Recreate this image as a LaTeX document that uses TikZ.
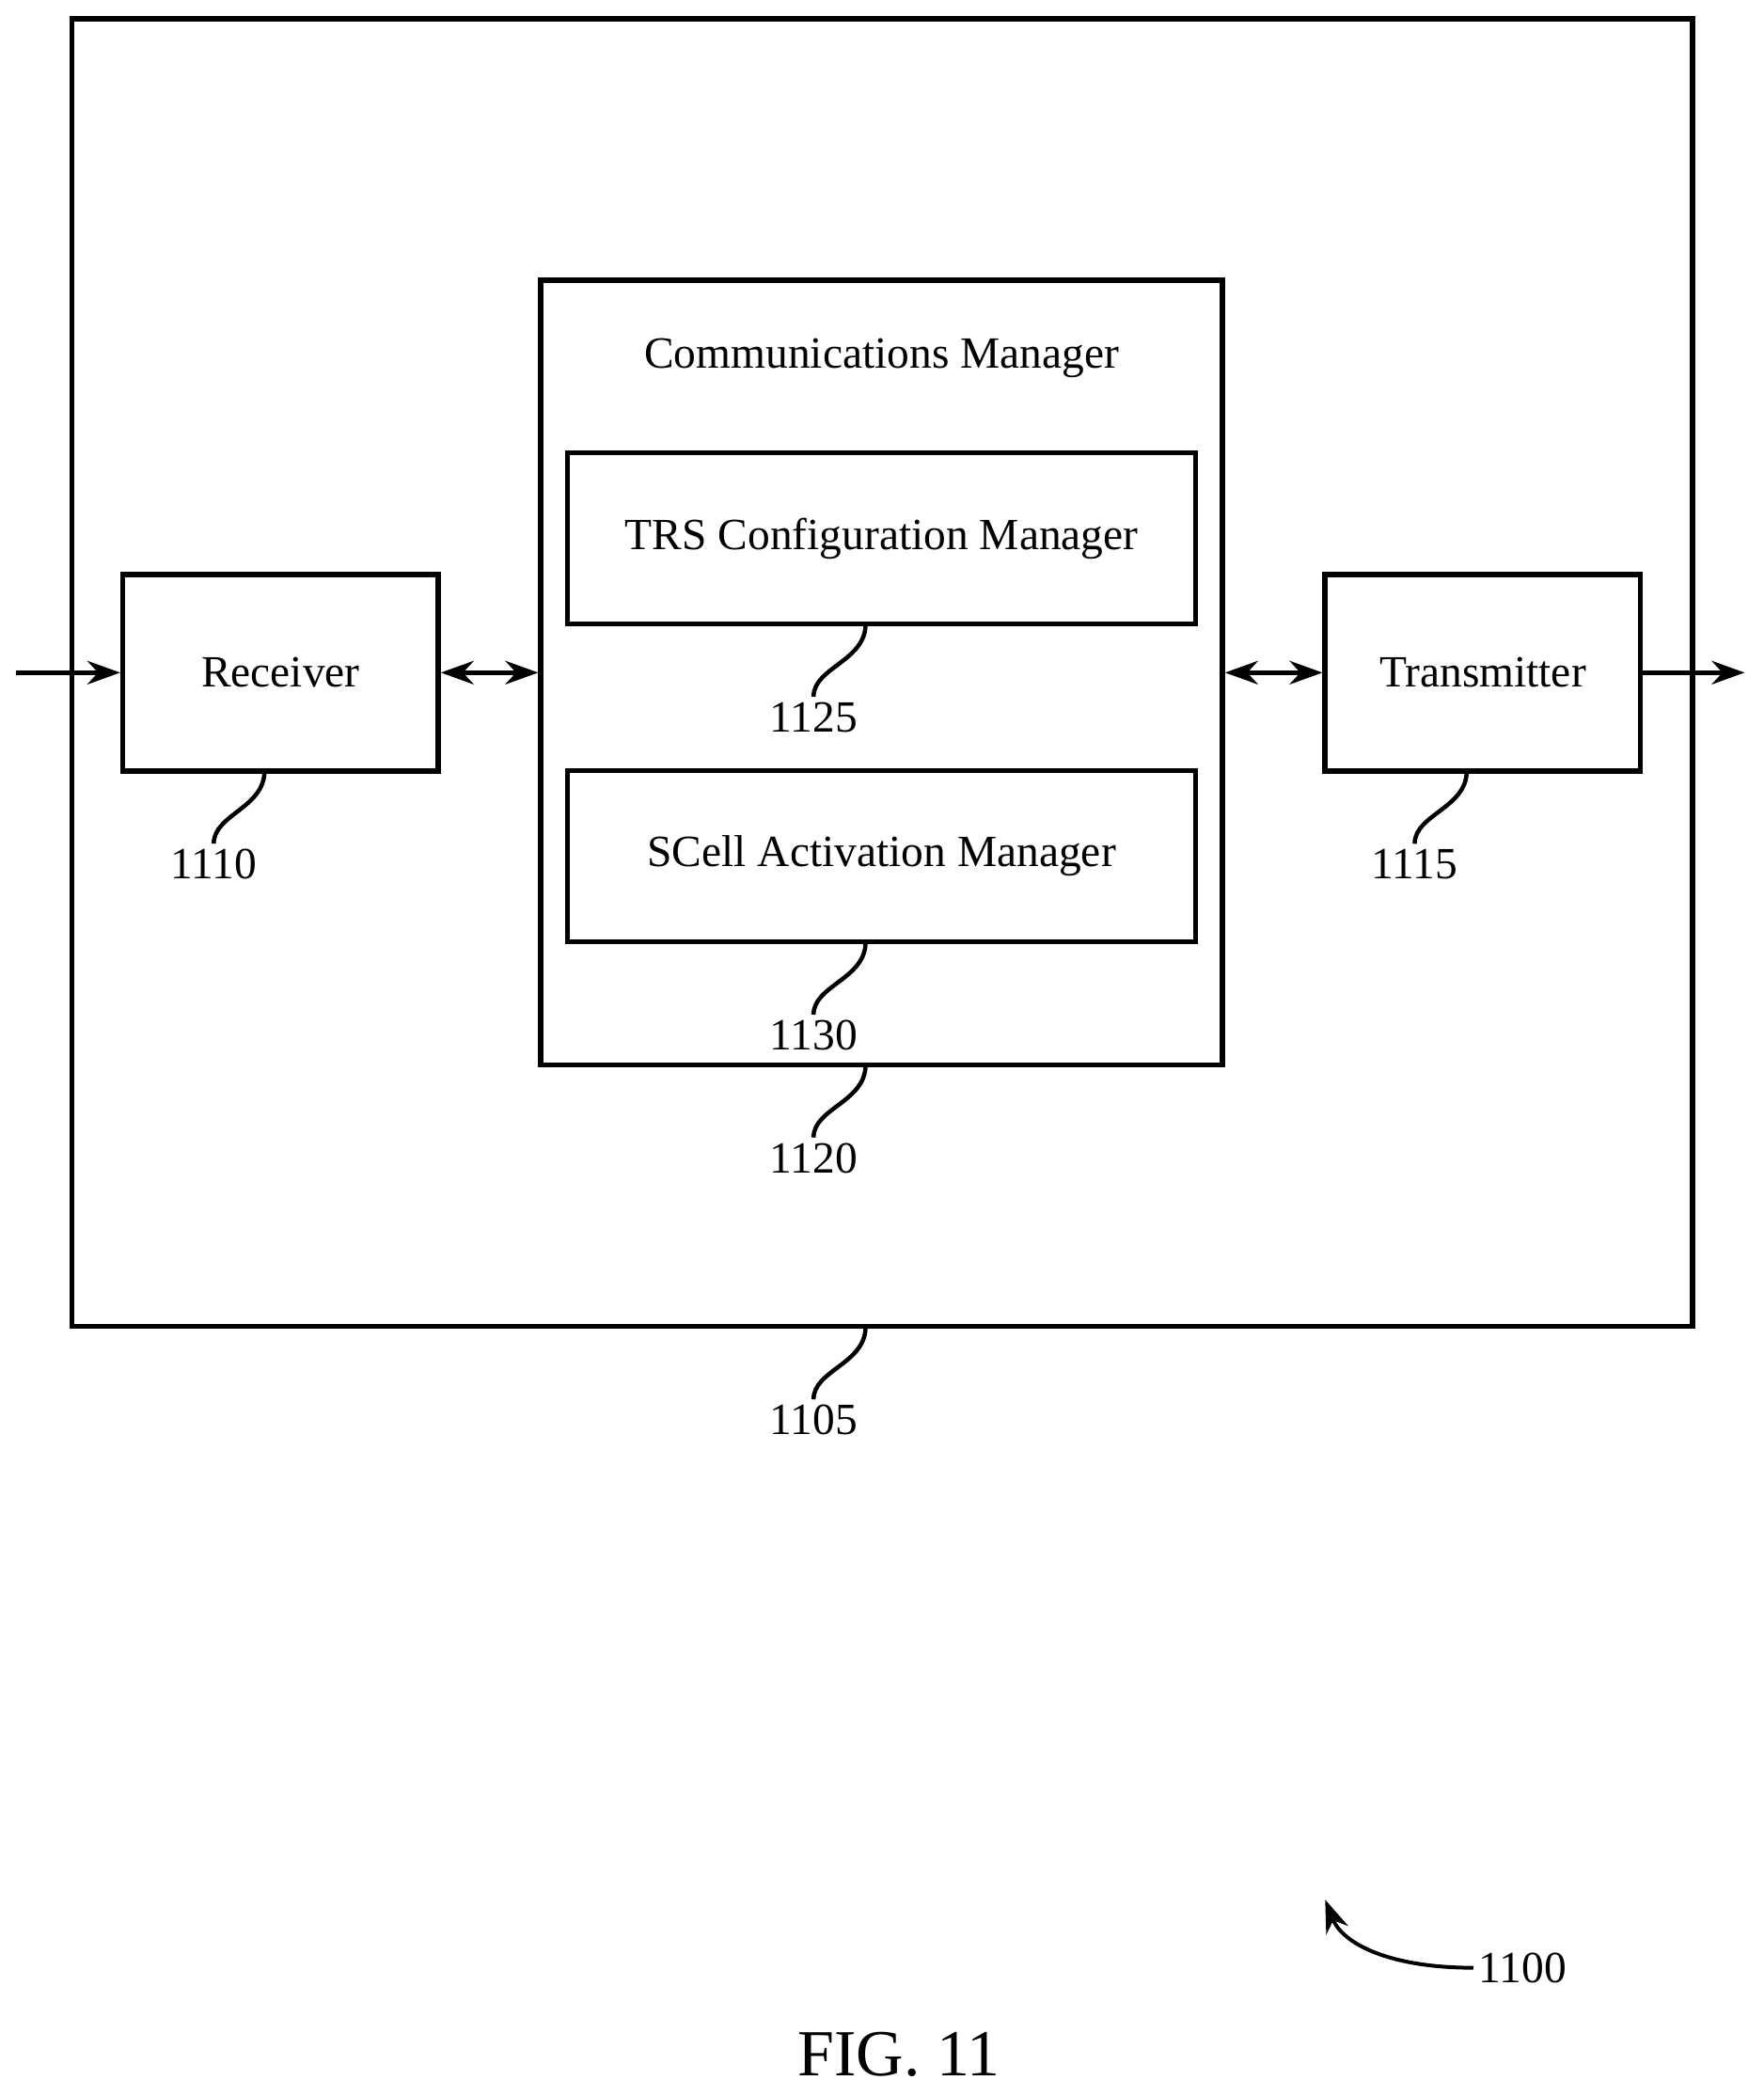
\documentclass[tikz,border=0pt]{standalone}
\usepackage{fontspec}
\setmainfont{Liberation Serif}
\usetikzlibrary{positioning,arrows.meta}

\begin{document}
\begin{tikzpicture}[
    x=0.01cm, y=-0.01cm,
    box/.style={draw, line width=1.1pt, font=\fontsize{9.5}{11}\selectfont},
    lbl/.style={font=\fontsize{9.5}{11}\selectfont, inner sep=1pt},
    conn/.style={line width=0.9pt, -{Stealth[length=7pt,width=5pt]}},
    biconn/.style={line width=0.9pt, {Stealth[length=7pt,width=5pt]}-{Stealth[length=7pt,width=5pt]}},
    squig/.style={line width=0.9pt}
]
    \useasboundingbox (0,0) rectangle (1320,1569);

    % Boxes
    \draw[box] (54,14) rectangle (1267,993);
    \node[box, minimum width=2.36cm, minimum height=1.47cm] (rx) at (210,503.5) {Receiver};
    \node[box, minimum width=2.36cm, minimum height=1.47cm] (tx) at (1110,503.5) {Transmitter};
    \node[box, minimum width=5.1cm, minimum height=5.87cm] (cm) at (660,503.5) {};
    \node[lbl] at (660,268) {Communications Manager};
    \node[box, minimum width=4.7cm, minimum height=1.28cm] (trs) at (660,403) {TRS Configuration Manager};
    \node[box, minimum width=4.7cm, minimum height=1.28cm] (scell) at (660,641) {SCell Activation Manager};

    % Connectors
    \coordinate (in) at (12,503.5);
    \coordinate (out) at (1306,503.5);
    \draw[conn] (in) -- (rx.west);
    \draw[biconn] (rx.east) -- (cm.west);
    \draw[biconn] (cm.east) -- (tx.west);
    \draw[conn] (tx.east) -- (out);

    % Reference labels
    \node[lbl] (l1110) at (160,647) {1110};
    \node[lbl] (l1115) at (1059,647) {1115};
    \node[lbl] (l1125) at (609,537) {1125};
    \node[lbl] (l1130) at (609,775) {1130};
    \node[lbl] (l1120) at (609,867) {1120};
    \node[lbl] (l1105) at (609,1063) {1105};
    \coordinate (p1110) at (198,577);
    \coordinate (p1115) at (1098,577);
    \coordinate (p1125) at (648,467);
    \coordinate (p1130) at (648,705);
    \coordinate (p1120) at (648,797);
    \coordinate (p1105) at (648,993);
    \foreach \n in {1110,1115,1125,1130,1120,1105} {
        \draw[squig] (p\n) .. controls +(0,28) and +(0,-22) .. (l\n.north);
    }

    % Figure reference
    \node[lbl] (l1100) at (1140,1473) {1100};
    \coordinate (a1100) at (992,1422);
    \draw[conn, line width=0.8pt] (l1100.west) .. controls (1040,1473) and (1005,1455) .. (a1100);
    \node[font=\fontsize{14}{16}\selectfont] (fig) at (673,1538) {FIG. 11};
\end{tikzpicture}
\end{document}
